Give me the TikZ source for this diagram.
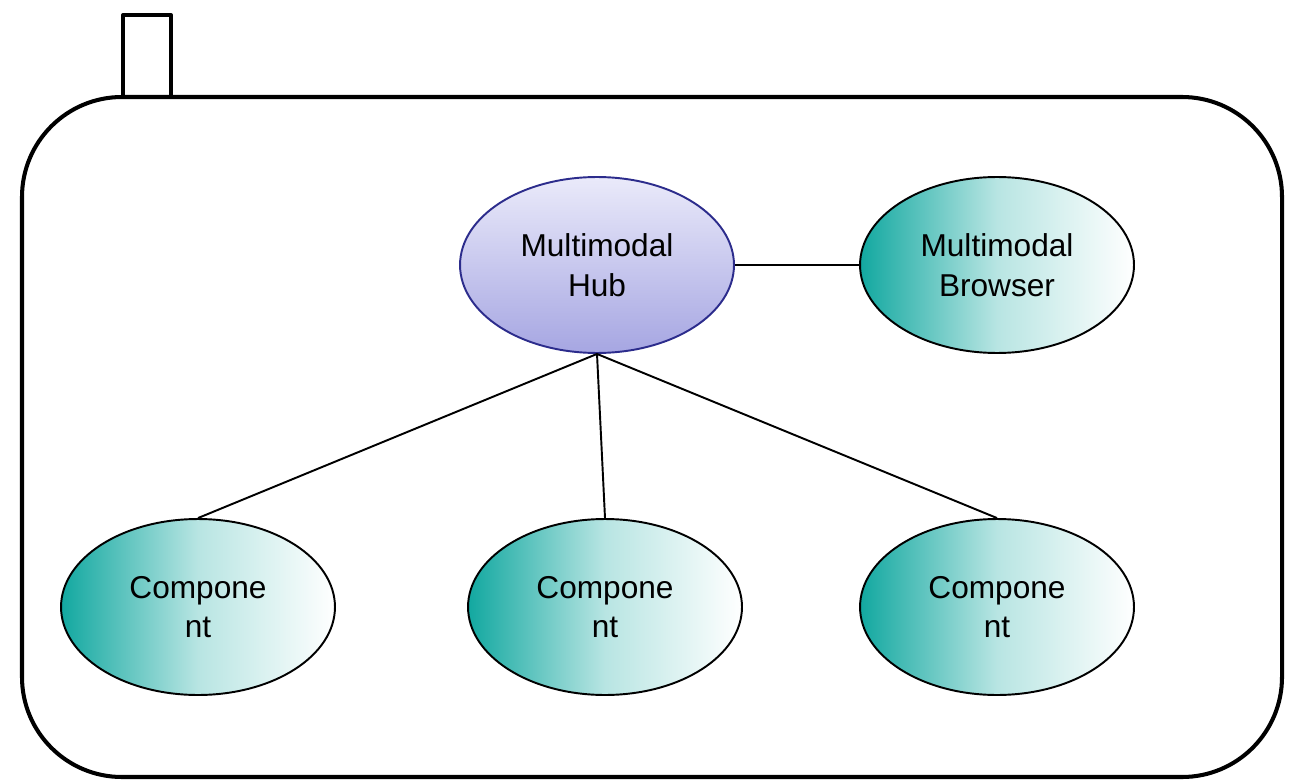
\documentclass[tikz,border=0pt]{standalone}
\usepackage{fontspec}
\setmainfont{Liberation Sans}
\usetikzlibrary{shapes.geometric,positioning}
\definecolor{tealdark}{RGB}{18,168,160}
\definecolor{hubtop}{RGB}{234,234,250}
\definecolor{hubbot}{RGB}{166,166,226}
\definecolor{hubline}{RGB}{44,44,140}
\tikzset{
  frame/.style={draw=black, line width=2.3pt},
  link/.style={draw=black, line width=1.1pt},
  bubble/.style={ellipse, draw=black, line width=1.1pt, minimum width=5.48cm, minimum height=3.52cm,
    inner sep=0pt, align=center, font=\fontsize{18}{22.5}\selectfont,
    left color=tealdark, right color=white, middle color=tealdark!30!white},
  hub/.style={bubble, draw=hubline, top color=hubtop, bottom color=hubbot}
}

\begin{document}
\begin{tikzpicture}[x=0.02cm,y=-0.02cm]
  \useasboundingbox (0,0) rectangle (1293,780);
  % outer case with the little tab on top
  \draw[frame, rounded corners=2cm] (22,97) rectangle (1282,777);
  \draw[frame, line join=round] (123,97) -- (123,15) -- (171,15) -- (171,97);
  % nodes
  \node[hub] (hub) at (597,265) {Multimodal\\Hub};
  \node[bubble] (browser) at (997,265) {Multimodal\\Browser};
  \node[bubble] (compA) at (198,607) {Compone\\nt};
  \node[bubble] (compB) at (605,607) {Compone\\nt};
  \node[bubble] (compC) at (997,607) {Compone\\nt};
  % connections
  \draw[link] (hub.east) -- (browser.west);
  \draw[link] (hub.south) -- (compA.north);
  \draw[link] (hub.south) -- (compB.north);
  \draw[link] (hub.south) -- (compC.north);
\end{tikzpicture}
\end{document}
